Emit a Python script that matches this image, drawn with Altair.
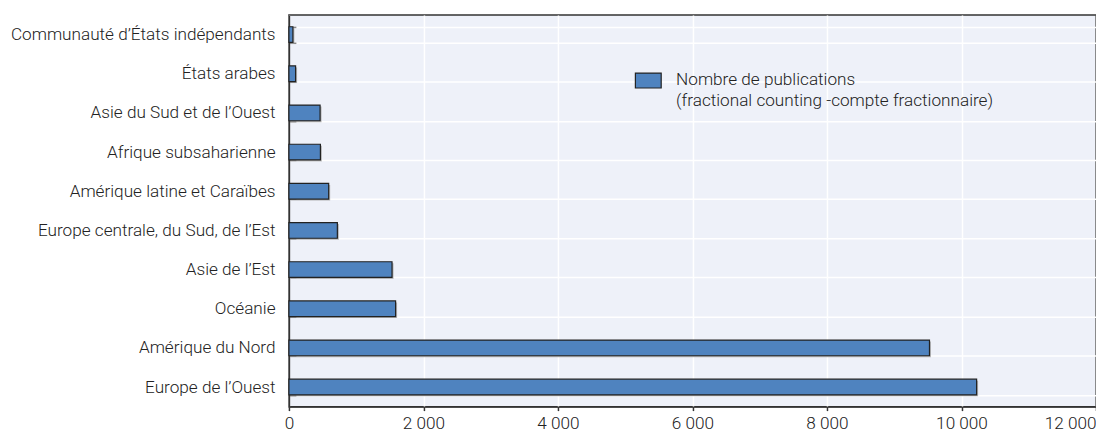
import altair as alt
import pandas as pd

regions = [
    "Communauté d’États indépendants",
    "États arabes",
    "Asie du Sud et de l’Ouest",
    "Afrique subsaharienne",
    "Amérique latine et Caraïbes",
    "Europe centrale, du Sud, de l’Est",
    "Asie de l’Est",
    "Océanie",
    "Amérique du Nord",
    "Europe de l’Ouest",
]
publications = [59, 99, 463, 468, 591, 720, 1533, 1586, 9524, 10225]
series_name = "Nombre de publications|(fractional counting -compte fractionnaire)"
x_ticks = [0, 2000, 4000, 6000, 8000, 10000, 12000]

df = pd.DataFrame({"region": regions, "value": publications, "serie": series_name})

FONT = "Roboto"
FW = 300
FS = 17.3
TXT = "#222222"

y_enc_main = alt.Y(
    "region:N", sort=regions, title=None,
    scale=alt.Scale(paddingInner=0.6, paddingOuter=0.3),
    axis=alt.Axis(
        labelFont=FONT, labelFontSize=FS, labelFontWeight=FW, labelColor=TXT,
        labelPadding=14, labelLimit=400,
        ticks=False, domain=True, domainColor="#333333", domainWidth=1.5,
        grid=True, gridColor="#ffffff", gridWidth=1.5, tickBand="extent",
        orient="left",
    ),
)
y_enc_ticks = alt.Y(
    "region:N", sort=regions, title=None,
    scale=alt.Scale(paddingInner=0.6, paddingOuter=0.3),
    axis=alt.Axis(
        labels=False, domain=False, grid=False, ticks=True, tickSize=7,
        tickColor="#888888", tickWidth=1.5, tickBand="extent", offset=-7,
        orient="left",
    ),
)
x_enc = alt.X(
    "value:Q", title=None,
    scale=alt.Scale(domain=[0, 12000], nice=False),
    axis=alt.Axis(
        values=x_ticks, labelFont=FONT, labelFontSize=FS, labelFontWeight=FW,
        labelColor=TXT,
        labelExpr="replace(format(datum.value, ','), ',', ' ')",
        labelAlign={"condition": {"test": "datum.value >= 12000", "value": "right"}, "value": "center"},
        tickSize=4, tickColor="#333333", tickWidth=1.5, labelPadding=4,
        domain=True, domainColor="#333333", domainWidth=1.5,
        grid=True, gridColor="#ffffff", gridWidth=1.5,
    ),
)

base = alt.Chart(df)

shadow = base.mark_bar(color="#9a9a9a", opacity=0.7, xOffset=1.5, yOffset=1.5).encode(
    x=x_enc, y=y_enc_ticks
)

bars = base.mark_bar(stroke="#222222", strokeWidth=1.2).encode(
    x=x_enc,
    y=y_enc_main,
    color=alt.Color(
        "serie:N", title=None,
        scale=alt.Scale(range=["#4F83BF"]),
        legend=alt.Legend(
            orient="none", legendX=348, legendY=52,
            symbolType="M-1,-0.58L1,-0.58L1,0.58L-1,0.58Z", symbolSize=676,
            symbolStrokeColor="#222222", symbolStrokeWidth=1.2, symbolOpacity=1,
            labelFont=FONT, labelFontSize=FS, labelFontWeight=FW, labelColor=TXT,
            labelExpr="split(datum.label, '|')", labelLimit=500, labelOffset=14,
        ),
    ),
)

chart = (
    alt.layer(shadow, bars)
    .resolve_axis(y="independent")
    .properties(
        width=813, height=394.5,
        padding={"left": 283, "top": 5.5, "right": 0, "bottom": 25},
        autosize=alt.AutoSizeParams(type="none"),
    )
    .configure(style={"guide-label": {"lineHeight": 21}})
    .configure_view(fill="#EEF1F9", stroke="#333333", strokeWidth=1.5)
)

chart.save("out.html", embed_options={"renderer": "svg", "actions": False})
